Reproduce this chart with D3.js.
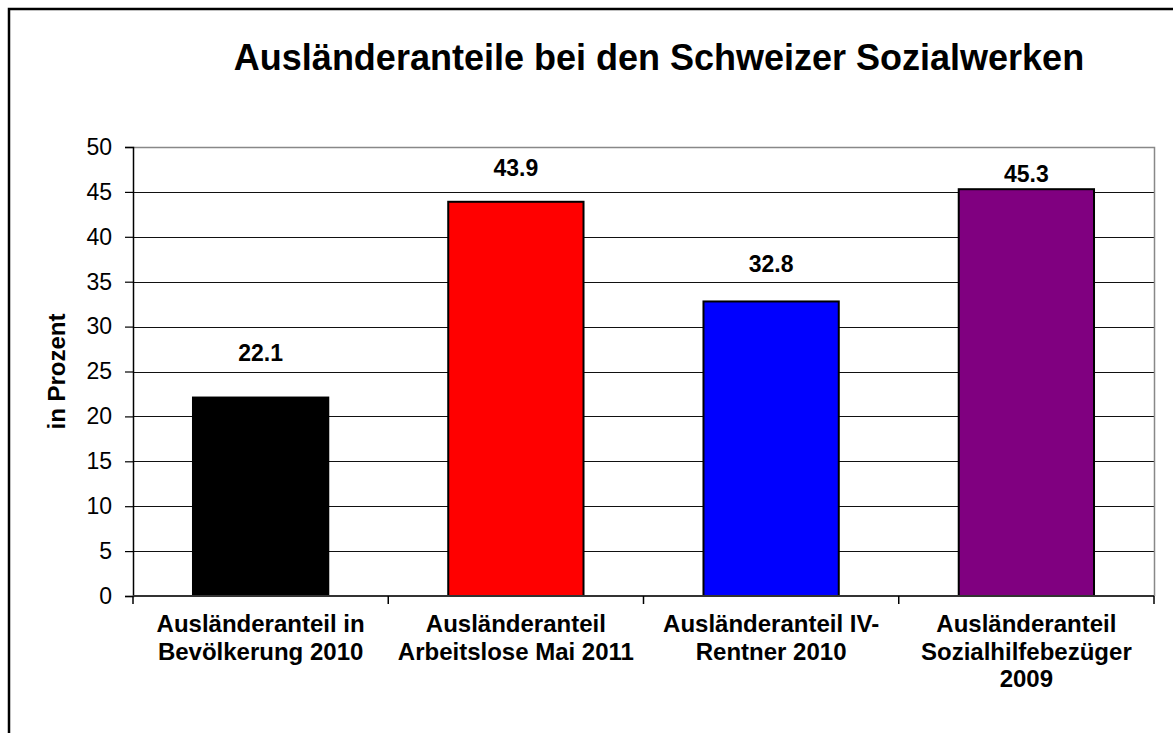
<!DOCTYPE html>
<html>
<head>
<meta charset="utf-8">
<script src="https://cdn.jsdelivr.net/npm/d3@7"></script>
<style>
  body { margin: 0; background: #fff; }
  svg { display: block; font-family: "Liberation Sans", Arial, sans-serif; }
</style>
</head>
<body>
<figure id="chart" style="margin:0"></figure>
<script>
// data
const categories = [
  "Ausländeranteil in Bevölkerung 2010",
  "Ausländeranteil Arbeitslose Mai 2011",
  "Ausländeranteil IV-Rentner 2010",
  "Ausländeranteil Sozialhilfebezüger 2009"
];
const categoryLines = [
  ["Ausländeranteil in", "Bevölkerung 2010"],
  ["Ausländeranteil", "Arbeitslose Mai 2011"],
  ["Ausländeranteil IV-", "Rentner 2010"],
  ["Ausländeranteil", "Sozialhilfebezüger", "2009"]
];
const values = [22.1, 43.9, 32.8, 45.3];
const yTicks = [0, 5, 10, 15, 20, 25, 30, 35, 40, 45, 50];
const colors = ["#000000", "#ff0000", "#0000ff", "#800080"];
// labels sit at slightly different heights above the bars in the original
const labelLift = [37, 26, 29, 7];

const W = 1173, H = 733;
const plot = { left: 133, top: 147, right: 1154, bottom: 596 };

const svg = d3.select("#chart").append("svg")
  .attr("width", W).attr("height", H);

// outer frame (right/bottom edges fall outside the picture)
svg.append("rect")
  .attr("x", 9).attr("y", 9)
  .attr("width", W + 20).attr("height", H + 20)
  .attr("fill", "none").attr("stroke", "#000").attr("stroke-width", 2.5);

svg.append("text")
  .attr("x", 659).attr("y", 70)
  .attr("text-anchor", "middle")
  .attr("font-size", "36px").attr("font-weight", "bold")
  .text("Ausländeranteile bei den Schweizer Sozialwerken");

const x = d3.scaleBand().domain(categories).range([plot.left, plot.right]).padding(0);
const y = d3.scaleLinear().domain([0, 50]).range([plot.bottom, plot.top]);

// gridlines
svg.append("g")
  .selectAll("line")
  .data(yTicks.filter(t => t > 0 && t < 50))
  .enter().append("line")
  .attr("x1", plot.left).attr("x2", plot.right)
  .attr("y1", d => Math.round(y(d)) + 0.5).attr("y2", d => Math.round(y(d)) + 0.5)
  .attr("stroke", "#111").attr("stroke-width", 1.2);

// plot border top/right
svg.append("path")
  .attr("d", `M${plot.left},${plot.top + 0.5}H${plot.right + 0.5}V${plot.bottom}`)
  .attr("fill", "none").attr("stroke", "#888").attr("stroke-width", 1.5);

// bars
const barW = x.bandwidth() * 0.53;
svg.append("g")
  .selectAll("rect")
  .data(values)
  .enter().append("rect")
  .attr("x", (d, i) => x(categories[i]) + (x.bandwidth() - barW) / 2)
  .attr("y", d => y(d))
  .attr("width", barW)
  .attr("height", d => y(0) - y(d))
  .attr("fill", (d, i) => colors[i])
  .attr("stroke", "#000").attr("stroke-width", 2);

// value labels
svg.append("g")
  .selectAll("text")
  .data(values)
  .enter().append("text")
  .attr("x", (d, i) => x(categories[i]) + x.bandwidth() / 2)
  .attr("y", (d, i) => y(d) - labelLift[i])
  .attr("text-anchor", "middle")
  .attr("font-size", "23px").attr("font-weight", "bold")
  .text(d => d.toFixed(1));

// y axis
const yAxis = svg.append("g")
  .attr("transform", `translate(${plot.left},0)`)
  .call(d3.axisLeft(y).tickValues(yTicks).tickSize(8).tickPadding(13).tickFormat(d3.format("d")));
yAxis.select(".domain").attr("stroke", "#000").attr("stroke-width", 1.5);
yAxis.selectAll(".tick line").attr("stroke", "#000").attr("stroke-width", 1.2);
yAxis.selectAll("text").attr("font-size", "23px").attr("fill", "#000")
  .attr("font-family", "Liberation Sans, Arial, sans-serif");

// x axis: ticks at category boundaries
const xAxis = svg.append("g")
  .attr("transform", `translate(0,${plot.bottom})`);
xAxis.append("line")
  .attr("x1", plot.left).attr("x2", plot.right)
  .attr("stroke", "#333").attr("stroke-width", 2);
xAxis.selectAll(".bnd")
  .data(categories.map(c => x(c)).concat([plot.right]))
  .enter().append("line")
  .attr("x1", d => d).attr("x2", d => d)
  .attr("y1", 0).attr("y2", 8)
  .attr("stroke", "#000").attr("stroke-width", 1.5);

// category labels
const catG = xAxis.selectAll(".cat")
  .data(categoryLines)
  .enter().append("text")
  .attr("text-anchor", "middle")
  .attr("font-size", "24px").attr("font-weight", "bold");
catG.selectAll("tspan")
  .data((d, i) => d.map(line => ({ line, i })))
  .enter().append("tspan")
  .attr("x", d => x(categories[d.i]) + x.bandwidth() / 2)
  .attr("y", (d, j) => 36 + j * 27.5)
  .text(d => d.line);

// y title
svg.append("text")
  .attr("transform", `translate(65,${(plot.top + plot.bottom) / 2}) rotate(-90)`)
  .attr("text-anchor", "middle")
  .attr("font-size", "24px").attr("font-weight", "bold")
  .text("in Prozent");
</script>
</body>
</html>
